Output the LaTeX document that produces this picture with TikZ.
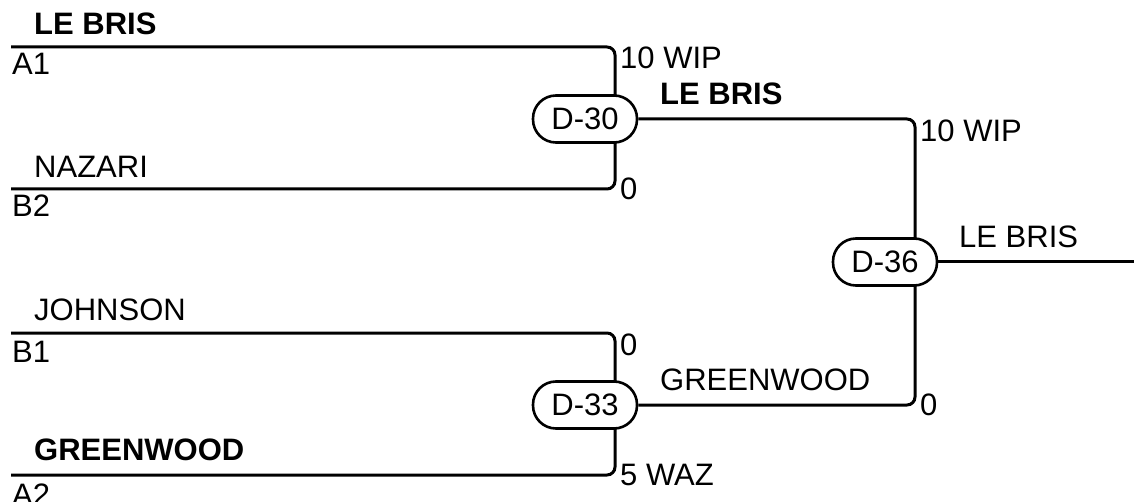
\documentclass[tikz,border=0pt]{standalone}
\usepackage{fontspec}
\setmainfont{Liberation Sans}
\usetikzlibrary{backgrounds}
\begin{document}
\begin{tikzpicture}[x=1pt,y=-1pt,
  wire/.style={line width=3pt, rounded corners=8pt},
  match/.style={draw, line width=2.6pt, fill=white, rectangle, rounded corners=23pt,
    minimum width=104pt, minimum height=47pt, inner sep=0pt, font=\fontsize{31}{37}\selectfont},
  lbl/.style={anchor=base west, inner sep=0pt, font=\fontsize{31}{37}\selectfont},
  blbl/.style={anchor=base west, inner sep=0pt, font=\fontsize{31}{37}\selectfont\bfseries}]
\useasboundingbox (0,0) rectangle (1134,502);
\clip (0,0) rectangle (1134,502);
% match nodes
\node[match] (d30) at (585,119) {D-30};
\node[match] (d33) at (585,405) {D-33};
\node[match] (d36) at (885,262) {D-36};
% endpoints and junctions
\coordinate (a1) at (11,47);
\coordinate (b2) at (11,189);
\coordinate (b1) at (11,333);
\coordinate (a2) at (11,475);
\coordinate (j30) at (615,119);
\coordinate (j33) at (615,405);
\coordinate (j36) at (915,262);
\coordinate (out) at (1134,262);
\begin{scope}[on background layer]
\draw[wire] (a1) -| (j30) |- (b2);
\draw[wire] (b1) -| (j33) |- (a2);
\draw[wire] (d30) -| (j36) |- (d33);
\draw[wire] (d36.east) -- (out);
\end{scope}
% labels
\node[blbl] (nA1) at (34,35) {LE BRIS};
\node[lbl] (pA1) at (12,75) {A1};
\node[lbl] (nB2) at (34,178) {NAZARI};
\node[lbl] (pB2) at (12,217) {B2};
\node[lbl] (nB1) at (34,320) {JOHNSON};
\node[lbl] (pB1) at (12,362) {B1};
\node[blbl] (nA2) at (34,460) {GREENWOOD};
\node[lbl] (pA2) at (12,505) {A2};
\node[lbl] (s1) at (620,69) {10 WIP};
\node[lbl] (s2) at (620,200) {0};
\node[lbl] (s3) at (620,355) {0};
\node[lbl] (s4) at (620,485) {5 WAZ};
\node[blbl] (w30) at (660,105) {LE BRIS};
\node[lbl] (w33) at (660,390) {GREENWOOD};
\node[lbl] (s5) at (920,142) {10 WIP};
\node[lbl] (s6) at (920,415) {0};
\node[lbl] (w36) at (959,248) {LE BRIS};
\end{tikzpicture}
\end{document}
